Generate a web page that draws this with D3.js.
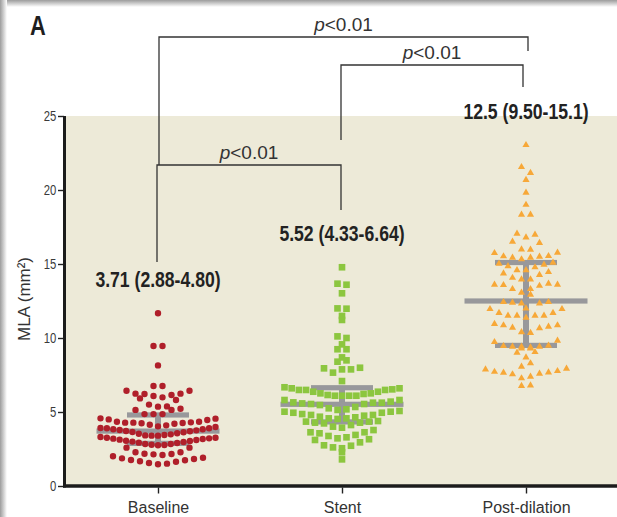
<!DOCTYPE html>
<html>
<head>
<meta charset="utf-8">
<script src="https://cdn.jsdelivr.net/npm/d3@7"></script>
<style>
  html, body { margin: 0; padding: 0; background: #fff; }
  svg { display: block; }
</style>
</head>
<body>
<svg id="chart" width="617" height="517"></svg>
<script>
// ---- data -------------------------------------------------------------
const categories = ["Baseline", "Stent", "Post-dilation"];
const yTicks = [0, 5, 10, 15, 20, 25];

// MLA (mm²) of each lesion, grouped by the horizontal row of the scatter it sits in, left to right
const baselineRows = [
  [2.01, 1.87, 1.76, 1.67, 1.55, 1.47, 1.51, 1.64, 1.74, 1.82, 1.91],
  [2.59, 2.28, 2.18, 2.14, 2.09, 2.16, 2.28, 2.59],
  [3.31, 3.26, 3.20, 3.13, 3.06, 3.00, 2.93, 2.84, 2.79, 2.75, 2.77, 2.84, 2.91, 2.97, 3.04, 3.11, 3.18, 3.22, 3.26],
  [3.92, 3.90, 3.83, 3.78, 3.72, 3.65, 3.53, 3.42, 3.40, 3.40, 3.45, 3.49, 3.56, 3.63, 3.70, 3.76, 3.83, 3.90, 3.99],
  [4.57, 4.50, 4.34, 4.28, 4.28, 4.24, 4.14, 4.03, 4.10, 4.21, 4.26, 4.30, 4.34, 4.46, 4.55],
  [5.14, 4.86, 4.86, 4.86, 5.14, 5.22],
  [5.92, 5.50, 5.36, 5.38, 5.81],
  [6.44, 6.24, 6.22, 6.08, 5.99, 6.15, 6.24, 6.44],
  [6.76, 6.76],
  [8.15],
  [9.46, 9.46],
  [11.67]
];

const stentRows = [
  [1.80],
  [2.28],
  [3.11, 2.75, 2.61, 2.55, 2.72, 2.95, 3.16],
  [3.63, 3.56, 3.38, 3.22, 3.29, 3.45, 3.63, 3.78],
  [4.35, 4.28, 4.23, 4.01, 3.94, 4.12, 4.28, 4.35, 4.39],
  [5.02, 4.95, 4.86, 4.80, 4.68, 4.57, 4.53, 4.57, 4.64, 4.75, 4.80, 4.95, 5.02, 5.07],
  [5.81, 5.65, 5.58, 5.54, 5.47, 5.25, 5.14, 5.18, 5.34, 5.54, 5.63, 5.63, 5.70, 5.81],
  [6.67, 6.60, 6.49, 6.49, 6.37, 6.26, 6.15, 6.10, 6.10, 6.10, 6.10, 6.22, 6.26, 6.37, 6.49, 6.53, 6.60],
  [7.09],
  [7.95, 7.66, 7.88, 7.88, 7.99],
  [8.40, 8.49],
  [8.69],
  [9.24, 9.24],
  [9.57],
  [10.11, 10.00],
  [11.22],
  [11.49],
  [12.00, 11.98],
  [13.02],
  [13.67, 13.60],
  [14.78]
];

const postRows = [
  [6.76, 6.80],
  [7.88, 7.72, 7.66, 7.55, 7.28, 7.39, 7.59, 7.68, 7.77, 7.93],
  [8.06, 8.29],
  [9.01, 8.69, 9.05],
  [9.30, 9.30],
  [9.73, 9.46, 9.41, 9.41, 9.37, 9.41, 9.48, 9.82],
  [10.95, 10.86, 10.70, 10.39, 10.34, 10.66, 10.77, 10.86],
  [11.96, 11.69, 11.51, 11.51, 11.37, 11.51, 11.51, 11.69, 11.96],
  [12.00],
  [12.43, 12.39, 12.34, 12.93, 12.34, 12.43],
  [13.60, 13.58, 13.31, 13.06, 13.31, 13.53, 13.67, 13.60],
  [14.37, 14.07, 13.96, 13.96, 14.26, 14.46],
  [15.02, 14.86, 14.59, 14.59, 14.78, 14.95, 15.09],
  [15.74, 15.52, 15.43, 15.32, 15.43, 15.50, 15.54, 15.77],
  [16.51, 15.99, 15.97, 16.42],
  [17.05, 16.80, 16.98],
  [18.33, 18.33],
  [19.00],
  [19.82],
  [20.68],
  [21.55, 21.15],
  [23.04]
];

// median and interquartile range per group
const medians = [3.71, 5.52, 12.5];
const lowerQuartiles = [2.88, 4.33, 9.50];
const upperQuartiles = [4.80, 6.64, 15.1];

// pairwise comparisons (indices into categories)
const comparisons = [
  { from: 0, to: 1, label: "<0.01" },
  { from: 1, to: 2, label: "<0.01" },
  { from: 0, to: 2, label: "<0.01" }
];

// ---- layout -----------------------------------------------------------
const W = 617, H = 517;
const plotLeft = 65, plotRight = 617, plotTop = 116, plotBottom = 486;
const sans = "'Liberation Sans', Arial, sans-serif";

const svg = d3.select("#chart");

const y = d3.scaleLinear().domain([0, 25]).range([plotBottom, plotTop]);
const x = d3.scalePoint().domain(categories).range([66, 618]).padding(0.5);

// condensed text: regular face squeezed horizontally
function condensedText(parent, px, py, squeeze) {
  return parent.append("g")
    .attr("transform", `translate(${px},${py}) scale(${squeeze},1)`)
    .append("text");
}

// page frame shading along the top and left edges
const defs = svg.append("defs");
const gTop = defs.append("linearGradient").attr("id", "shadeTop")
  .attr("x1", 0).attr("y1", 0).attr("x2", 0).attr("y2", 1);
gTop.append("stop").attr("offset", 0).attr("stop-color", "#9c9c9c");
gTop.append("stop").attr("offset", 1).attr("stop-color", "#ffffff");
const gLeft = defs.append("linearGradient").attr("id", "shadeLeft")
  .attr("x1", 0).attr("y1", 0).attr("x2", 1).attr("y2", 0);
gLeft.append("stop").attr("offset", 0).attr("stop-color", "#9c9c9c");
gLeft.append("stop").attr("offset", 1).attr("stop-color", "#ffffff");

svg.append("rect").attr("x", 0).attr("y", 0).attr("width", W).attr("height", 7).attr("fill", "url(#shadeTop)");
svg.append("rect").attr("x", 0).attr("y", 0).attr("width", 7).attr("height", H).attr("fill", "url(#shadeLeft)");

// plot background
svg.append("rect")
  .attr("x", plotLeft).attr("y", plotTop)
  .attr("width", plotRight - plotLeft).attr("height", plotBottom - plotTop)
  .attr("fill", "#edead8");

// panel letter
condensedText(svg, 30, 35, 0.78)
  .attr("font-family", sans)
  .attr("font-weight", "bold").attr("font-size", 28).attr("fill", "#1e1e1e")
  .text("A");

// ---- median / IQR bars -----------------------------------------------
const barColor = "#98989b";
const gBars = svg.append("g");
categories.forEach((c, i) => {
  const cx = x(c);
  gBars.append("rect")
    .attr("x", cx - 3).attr("y", y(upperQuartiles[i]))
    .attr("width", 6).attr("height", y(lowerQuartiles[i]) - y(upperQuartiles[i]))
    .attr("fill", barColor);
  [lowerQuartiles[i], upperQuartiles[i]].forEach(q => {
    gBars.append("rect")
      .attr("x", cx - 31).attr("y", y(q) - 2.6)
      .attr("width", 62).attr("height", 5.2)
      .attr("fill", barColor);
  });
  gBars.append("rect")
    .attr("x", cx - 61.5).attr("y", y(medians[i]) - 2.6)
    .attr("width", 123).attr("height", 5.2)
    .attr("fill", barColor);
});

// ---- points -------------------------------------------------------------
const slot = 9, maxRowWidth = 115;
function rowLayout(rows, cx) {
  const pts = [];
  rows.forEach(row => {
    const n = row.length;
    const step = n > 1 ? Math.min(slot, maxRowWidth / (n - 1)) : 0;
    row.forEach((v, i) => pts.push({ v, x: cx + (i - (n - 1) / 2) * step }));
  });
  return pts;
}

const groups = [
  { rows: baselineRows, type: d3.symbolCircle, size: 32, color: "#b01f2a" },
  { rows: stentRows, type: d3.symbolSquare, size: 44, color: "#8cc63f" },
  { rows: postRows, type: d3.symbolTriangle, size: 22, color: "#f7a838" }
];

groups.forEach((g, i) => {
  const pts = rowLayout(g.rows, x(categories[i]));
  const sym = d3.symbol().type(g.type).size(g.size);
  svg.append("g").selectAll("path").data(pts).join("path")
    .attr("d", sym)
    .attr("transform", d => `translate(${d.x},${y(d.v)})`)
    .attr("fill", g.color);
});

// ---- axes ---------------------------------------------------------------
const yAxis = svg.append("g")
  .attr("transform", `translate(${plotLeft - 1},0)`)
  .call(d3.axisLeft(y).tickValues(yTicks).tickSize(6).tickPadding(2));
yAxis.select(".domain").remove();
yAxis.selectAll(".tick line").attr("stroke", "#222").attr("stroke-width", 1.4);
yAxis.selectAll(".tick text")
  .attr("font-family", sans).attr("font-size", 14.5).attr("fill", "#3a3a3a")
  .attr("transform", "translate(-7,0) scale(0.78,1)")
  .attr("text-anchor", "end")
  .attr("x", -1);

const xAxis = svg.append("g")
  .attr("transform", `translate(0,${plotBottom + 1.5})`)
  .call(d3.axisBottom(x).tickSize(6).tickPadding(8));
xAxis.select(".domain").remove();
xAxis.selectAll(".tick line").attr("stroke", "#222").attr("stroke-width", 1.4);
xAxis.selectAll(".tick text")
  .attr("font-family", sans)
  .attr("font-size", 16).attr("fill", "#333");

// axis lines
svg.append("line")
  .attr("x1", plotLeft - 0.5).attr("x2", plotLeft - 0.5)
  .attr("y1", y(25)).attr("y2", plotBottom + 1.5)
  .attr("stroke", "#1c1c1c").attr("stroke-width", 3);
svg.append("line")
  .attr("x1", plotLeft - 2).attr("x2", plotRight)
  .attr("y1", plotBottom).attr("y2", plotBottom)
  .attr("stroke", "#1c1c1c").attr("stroke-width", 3.5);

// y title
svg.append("text")
  .attr("transform", `translate(30,${(plotTop + plotBottom) / 2 - 2}) rotate(-90)`)
  .attr("text-anchor", "middle")
  .attr("font-family", sans)
  .attr("font-size", 17).attr("fill", "#333")
  .text("MLA (mm²)");

// ---- summary labels ---------------------------------------------------------
const fmt = d3.format(".3r");
categories.forEach((c, i) => {
  const top = d3.max(groups[i].rows.flat());
  condensedText(svg, x(c), y(top) - 26, 0.8)
    .attr("text-anchor", "middle")
    .attr("font-family", sans).attr("font-weight", "bold")
    .attr("font-size", 22).attr("fill", "#222")
    .text(`${fmt(medians[i])} (${fmt(lowerQuartiles[i])}-${fmt(upperQuartiles[i])})`);
});

// ---- significance brackets -------------------------------------------------
// bar height, leg ends and small horizontal nudges per bracket
const bracketGeom = [
  { top: 165, leftEnd: 262, rightEnd: 210, dxL: -1, dxR: -1 },
  { top: 65, leftEnd: 140, rightEnd: 87, dxL: -1, dxR: -3 },
  { top: 37, leftEnd: 165, rightEnd: 51, dxL: 1, dxR: 2 }
];
comparisons.forEach((cmp, i) => {
  const g = bracketGeom[i];
  const xl = x(categories[cmp.from]) + g.dxL;
  const xr = x(categories[cmp.to]) + g.dxR;
  svg.append("path")
    .attr("d", `M${xl},${g.leftEnd}V${g.top}H${xr}V${g.rightEnd}`)
    .attr("fill", "none").attr("stroke", "#333").attr("stroke-width", 1.3);
  const t = svg.append("text")
    .attr("x", (xl + xr) / 2).attr("y", g.top - 6)
    .attr("text-anchor", "middle")
    .attr("font-family", sans)
    .attr("font-size", 19).attr("fill", "#333");
  t.append("tspan").attr("font-style", "italic").text("p");
  t.append("tspan").text(cmp.label);
});
</script>
</body>
</html>
